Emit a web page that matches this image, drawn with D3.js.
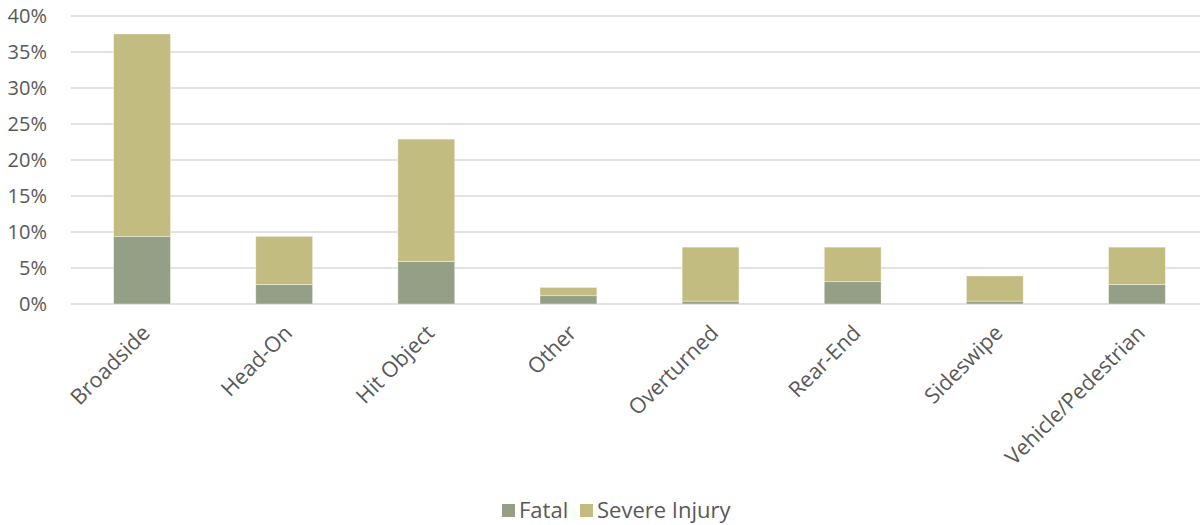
<!DOCTYPE html>
<html>
<head>
<meta charset="utf-8">
<script src="https://cdn.jsdelivr.net/npm/d3@7"></script>
<style>
  body { margin: 0; background: #fff; }
  svg { display: block; font-family: "Open Sans", sans-serif; }
</style>
</head>
<body>
<div class="content-container"></div>
<script>
    // collision types and shares (percent of all fatal + severe collisions)
    const categories = ["Broadside", "Head-On", "Hit Object", "Other", "Overturned", "Rear-End", "Sideswipe", "Vehicle/Pedestrian"];
    const fatal = [9.4, 2.7, 5.9, 1.15, 0.4, 3.1, 0.4, 2.7];
    const severeInjury = [28.1, 6.7, 17.0, 1.15, 7.5, 4.8, 3.5, 5.2];
    const seriesNames = ["Fatal", "Severe Injury"];
    const yTicks = [0, 5, 10, 15, 20, 25, 30, 35, 40];

    const colors = ["#949f86", "#c2bc80"];
    const width = 1200;
    const height = 525;

    const rows = categories.map((c, i) => ({ category: c, "Fatal": fatal[i], "Severe Injury": severeInjury[i] }));
    const stacked = d3.stack().keys(seriesNames)(rows);

    //SCALES
    const xScale = d3.scaleBand()
                     .domain(categories)
                     .range([71, 1208])
                     .paddingInner(0.6)
                     .paddingOuter(0.3);

    const yScale = d3.scaleLinear()
                     .domain([0, 40])
                     .range([304, 16]);

    const chart = d3.select(".content-container")
                  .append("svg")
                  .attr("width", width)
                  .attr("height", height);

    //GRIDLINES
    chart.append("g")
      .selectAll("line")
      .data(yTicks)
      .enter()
      .append("line")
      .attr("x1", 71)
      .attr("x2", width)
      .attr("y1", d => yScale(d))
      .attr("y2", d => yScale(d))
      .attr("stroke", "#d9d9d9")
      .attr("stroke-width", 1.5);

    //Y AXIS LABELS
    const yAxis = d3.axisLeft(yScale).tickValues(yTicks).tickSize(0).tickPadding(0).tickFormat(d => d + "%");
    chart.append("g")
      .attr("transform", "translate(47,0)")
      .call(yAxis)
      .call(g => g.select(".domain").remove())
      .selectAll("text")
      .attr("fill", "#595959")
      .style("font-size", "20px")
      .style("font-family", "Open Sans, sans-serif");

    //BARS
    chart.selectAll(".series")
      .data(stacked)
      .enter()
      .append("g")
      .attr("fill", (d, i) => colors[i])
      .selectAll("rect")
      .data(d => d)
      .enter()
      .append("rect")
      .attr("x", d => xScale(d.data.category))
      .attr("y", d => yScale(d[1]))
      .attr("width", xScale.bandwidth())
      .attr("height", d => yScale(d[0]) - yScale(d[1]))
      .attr("stroke", "#ffffff")
      .attr("stroke-opacity", 0.5)
      .attr("stroke-width", 0.75);

    //X AXIS LABELS
    chart.append("g")
      .selectAll("text")
      .data(categories)
      .enter()
      .append("text")
      .attr("transform", d => "translate(" + (xScale(d) + xScale.bandwidth() / 2 + 4) + ",329) rotate(-45)")
      .attr("text-anchor", "end")
      .attr("dy", "0.35em")
      .attr("fill", "#595959")
      .style("font-size", "21.5px")
      .text(d => d);

    //LEGEND
    const legendX = [502, 580];
    const legend = chart.selectAll(".legend")
      .data(seriesNames)
      .enter()
      .append("g");

    legend.append("rect")
      .attr("x", (d, i) => legendX[i])
      .attr("y", 504)
      .attr("width", 13)
      .attr("height", 13)
      .attr("fill", (d, i) => colors[i]);

    legend.append("text")
      .attr("x", (d, i) => legendX[i] + 17)
      .attr("y", 518)
      .attr("fill", "#595959")
      .style("font-size", "22px")
      .text(d => d);
</script>
</body>
</html>
